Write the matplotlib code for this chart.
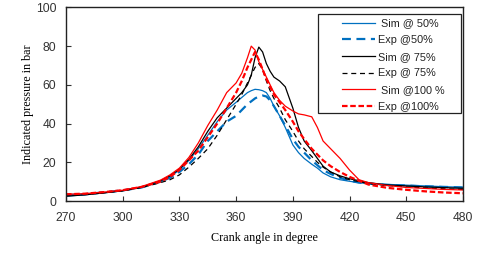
import matplotlib.pyplot as plt
from matplotlib.patches import Rectangle

# Crank angle (deg) shared by all series
angle = [270, 280, 290, 300, 310, 320, 325, 330, 335, 340, 345, 350, 355, 360,
         363, 366, 368, 370, 372, 374, 376, 378, 380, 383, 386, 390, 393, 396,
         400, 403, 406, 410, 415, 420, 425, 430, 440, 450, 460, 470, 480]

sim_50 = [2.5, 3.2, 4.2, 5.3, 7.0, 10.0, 12.5, 16.0, 21.0, 27.0, 34.0, 41.0, 47.0, 51.0,
          53.5, 56.0, 57.0, 57.7, 57.5, 57.0, 56.0, 53.0, 49.0, 44.0, 38.0, 29.0, 25.0, 22.0,
          19.0, 17.0, 14.5, 12.5, 11.0, 10.2, 9.5, 9.0, 8.6, 8.2, 7.8, 7.4, 7.1]
exp_50 = [3.0, 3.5, 4.5, 5.5, 7.0, 10.0, 12.0, 15.0, 19.0, 24.0, 31.0, 36.0, 41.0, 44.0,
          47.0, 50.0, 51.5, 53.0, 54.0, 54.5, 54.0, 52.0, 49.0, 44.0, 39.0, 32.0, 28.0, 25.0,
          21.0, 18.5, 16.0, 14.0, 12.0, 10.5, 9.5, 9.0, 8.3, 8.0, 7.6, 7.3, 7.0]
sim_75 = [2.5, 3.2, 4.2, 5.3, 7.2, 10.5, 13.0, 16.5, 21.5, 28.0, 36.0, 43.0, 48.0, 53.0,
          56.0, 60.0, 65.0, 74.0, 79.5, 77.0, 71.0, 67.0, 64.0, 62.0, 59.0, 48.0, 38.0, 31.0,
          26.0, 22.0, 18.0, 15.0, 13.0, 11.5, 10.5, 9.5, 8.3, 7.8, 7.3, 6.9, 6.6]
exp_75 = [3.0, 3.5, 4.3, 5.3, 7.0, 9.5, 11.0, 13.5, 17.5, 22.0, 27.0, 34.0, 42.0, 50.0,
          55.0, 61.0, 65.0, 69.0, 71.0, 68.0, 62.0, 57.0, 53.0, 48.0, 42.0, 36.0, 31.0, 27.0,
          23.0, 20.0, 17.5, 15.0, 12.5, 11.0, 10.0, 9.0, 8.0, 7.3, 6.8, 6.3, 6.0]
sim_100 = [3.5, 3.8, 4.6, 5.6, 7.5, 10.8, 13.5, 17.0, 22.5, 30.0, 39.0, 47.0, 56.0, 61.0,
           66.0, 74.0, 80.0, 78.0, 72.0, 68.0, 64.0, 60.0, 56.0, 52.0, 49.0, 46.5, 45.0, 44.5,
           43.5, 38.0, 31.0, 27.0, 22.0, 16.0, 11.0, 9.5, 8.0, 7.0, 6.5, 6.0, 5.7]
exp_100 = [3.5, 3.8, 4.6, 5.6, 7.3, 10.0, 12.5, 16.0, 21.0, 26.0, 33.0, 40.0, 48.0, 56.0,
           62.0, 69.0, 73.0, 77.0, 73.0, 68.0, 63.0, 59.0, 55.0, 51.0, 47.0, 41.0, 36.0, 32.0,
           27.0, 24.0, 21.0, 18.0, 15.0, 12.5, 10.5, 8.5, 6.8, 5.8, 5.0, 4.4, 4.0]

blue = '#0070C0'
red = '#FF0000'

fig = plt.figure(figsize=(4.8, 2.75), dpi=100)
ax = fig.add_axes([0.1375, 0.269, 0.827, 0.704])

ax.plot(angle, sim_50, color=blue, lw=0.9, label=' Sim @ 50%')
ax.plot(angle, exp_50, color=blue, lw=1.6, ls=(0, (4, 2.5)), label='Exp @50%')
ax.plot(angle, sim_75, color='black', lw=0.9, label='Sim @ 75%')
ax.plot(angle, exp_75, color='black', lw=0.9, ls=(0, (4, 3)), label='Exp @ 75%')
ax.plot(angle, sim_100, color=red, lw=0.9, label=' Sim @100 %')
ax.plot(angle, exp_100, color=red, lw=1.6, ls=(0, (2.5, 1.2)), label='Exp @100%')

ax.set_xlim(270, 480)
ax.set_ylim(0, 100)
ax.set_xticks(range(270, 481, 30))
ax.set_yticks(range(0, 101, 20))

tick_font = 'Liberation Sans'
for lab in ax.get_xticklabels() + ax.get_yticklabels():
    lab.set_fontfamily(tick_font)
    lab.set_fontsize(8.7)
    lab.set_color('#333333')
ax.tick_params(direction='in', length=3.5, width=0.8, color='#333333')
ax.tick_params(axis='x', pad=8)
ax.tick_params(axis='y', pad=7)

for s in ax.spines.values():
    s.set_linewidth(1.0)
    s.set_color('#222222')

ax.set_xlabel('Crank angle in degree', family='Liberation Serif', fontsize=8.7, labelpad=6)
ax.set_ylabel('Indicated pressure in bar', family='Liberation Serif', fontsize=8.7, labelpad=1)

# legend frame drawn separately so the padding can be wide
ax.add_patch(Rectangle((0.635, 0.455), 0.36, 0.511, transform=ax.transAxes,
                       fill=False, edgecolor='#222222', lw=0.9, zorder=5))
leg = ax.legend(loc='upper left', bbox_to_anchor=(0.69, 0.955), frameon=False,
                borderaxespad=0, borderpad=0.2, handlelength=3.0, handletextpad=0.35,
                labelspacing=0.62, prop={'family': 'Liberation Sans', 'size': 7.8})
for t in leg.get_texts():
    t.set_color('#222222')

plt.savefig('out.png', dpi=100, facecolor='white')
